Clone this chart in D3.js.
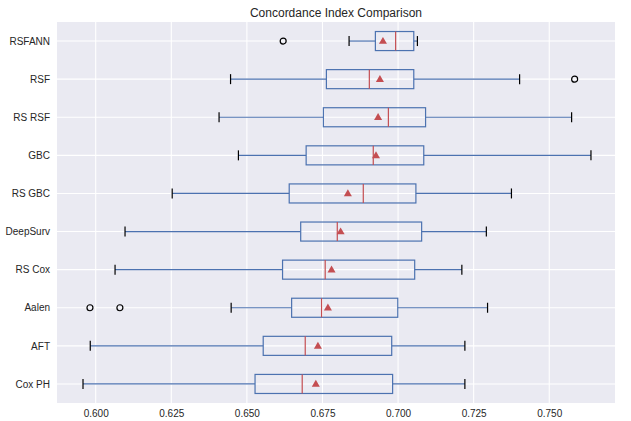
<!DOCTYPE html>
<html>
<head>
<meta charset="utf-8">
<script src="https://cdn.jsdelivr.net/npm/d3@7"></script>
<style>
  body { margin: 0; background: #fff; }
  svg text { font-family: "Liberation Sans", Arial, sans-serif; fill: #262626; }
</style>
</head>
<body>
<div id="chart"></div>
<script>
// models, top to bottom
const models = ['RSFANN', 'RSF', 'RS RSF', 'GBC', 'RS GBC', 'DeepSurv', 'RS Cox', 'Aalen', 'AFT', 'Cox PH'];
const whiskerLow  = [0.6838, 0.6446, 0.6408, 0.6472, 0.6253, 0.6097, 0.6064, 0.6448, 0.5982, 0.5958];
const q1          = [0.6925, 0.6763, 0.6753, 0.6696, 0.6640, 0.6678, 0.6618, 0.6648, 0.6554, 0.6527];
const medians     = [0.6992, 0.6905, 0.6968, 0.6918, 0.6885, 0.6799, 0.6759, 0.6747, 0.6693, 0.6683];
const q3          = [0.7052, 0.7052, 0.7091, 0.7085, 0.7059, 0.7078, 0.7055, 0.6999, 0.6979, 0.6982];
const whiskerHigh = [0.7064, 0.7402, 0.7574, 0.7638, 0.7375, 0.7292, 0.7211, 0.7296, 0.7221, 0.7221];
const means       = [0.6950, 0.6940, 0.6934, 0.6927, 0.6834, 0.6810, 0.6780, 0.6768, 0.6735, 0.6728];
const outliers    = [[0.6620], [0.7584], [], [], [], [], [], [0.5981, 0.6080], [], []];
const xTicks = [0.600, 0.625, 0.650, 0.675, 0.700, 0.725, 0.750];

const margin = {top: 22, right: 16, bottom: 18, left: 57},
      svgWidth = 631,
      svgHeight = 421,
      width = svgWidth - margin.left - margin.right,
      height = svgHeight - margin.top - margin.bottom;

const svg = d3.select('#chart')
    .append('svg')
    .attr('width', svgWidth)
    .attr('height', svgHeight);

svg.append('text')
    .attr('x', margin.left + width / 2)
    .attr('y', 17)
    .attr('text-anchor', 'middle')
    .style('font-size', '12px')
    .text('Concordance Index Comparison');

const g = svg.append('g')
    .attr('transform', `translate(${margin.left}, ${margin.top})`);

const xScale = d3.scaleLinear().domain([0.5872, 0.77175]).range([0, width]);
const yScale = d3.scalePoint().domain(models).range([0, height]).padding(0.5);
const boxH = yScale.step() * 0.5;

g.append('rect')
    .attr('width', width)
    .attr('height', height)
    .attr('fill', '#EAEAF2');

// grid
g.selectAll('.vgrid').data(xTicks).enter().append('line')
    .attr('x1', d => xScale(d)).attr('x2', d => xScale(d))
    .attr('y1', 0).attr('y2', height)
    .attr('stroke', '#fff').attr('stroke-width', 1.1);
g.selectAll('.hgrid').data(models).enter().append('line')
    .attr('x1', 0).attr('x2', width)
    .attr('y1', d => yScale(d)).attr('y2', d => yScale(d))
    .attr('stroke', '#fff').attr('stroke-width', 1.1);

// axes
const xAxis = g.append('g')
    .attr('transform', `translate(0, ${height})`)
    .call(d3.axisBottom(xScale).tickValues(xTicks).tickFormat(d3.format('.3f')).tickSize(0).tickPadding(7));
const yAxis = g.append('g')
    .call(d3.axisLeft(yScale).tickSize(0).tickPadding(7));
[xAxis, yAxis].forEach(a => {
    a.select('.domain').remove();
    a.selectAll('text').style('font-size', '10px').attr('fill', '#262626');
});

const rows = models.map((m, i) => ({
    m, lo: whiskerLow[i], q1: q1[i], med: medians[i], q3: q3[i],
    hi: whiskerHigh[i], mean: means[i], out: outliers[i]
}));

const row = g.selectAll('.row').data(rows).enter().append('g')
    .attr('transform', d => `translate(0, ${yScale(d.m)})`);

// whiskers
row.append('line')
    .attr('x1', d => xScale(d.lo)).attr('x2', d => xScale(d.q1))
    .attr('stroke', '#4C72B0').attr('stroke-width', 1.2);
row.append('line')
    .attr('x1', d => xScale(d.q3)).attr('x2', d => xScale(d.hi))
    .attr('stroke', '#4C72B0').attr('stroke-width', 1.2);
// caps
['lo', 'hi'].forEach(k => {
    row.append('line')
        .attr('x1', d => xScale(d[k])).attr('x2', d => xScale(d[k]))
        .attr('y1', -5).attr('y2', 5)
        .attr('stroke', '#000').attr('stroke-width', 1.2);
});
// boxes
row.append('rect')
    .attr('x', d => xScale(d.q1))
    .attr('y', -boxH / 2)
    .attr('width', d => xScale(d.q3) - xScale(d.q1))
    .attr('height', boxH)
    .attr('fill', 'none')
    .attr('stroke', '#4C72B0').attr('stroke-width', 1.2);
// medians
row.append('line')
    .attr('x1', d => xScale(d.med)).attr('x2', d => xScale(d.med))
    .attr('y1', -boxH / 2).attr('y2', boxH / 2)
    .attr('stroke', '#C44E52').attr('stroke-width', 1.2);
// means
row.append('path')
    .attr('d', d3.symbol(d3.symbolTriangle, 28))
    .attr('transform', d => `translate(${xScale(d.mean)}, 0.5)`)
    .attr('fill', '#C44E52');
// outliers
row.selectAll('.flier').data(d => d.out).enter().append('circle')
    .attr('cx', d => xScale(d))
    .attr('r', 3)
    .attr('fill', 'none')
    .attr('stroke', '#000').attr('stroke-width', 1.2);
</script>
</body>
</html>
